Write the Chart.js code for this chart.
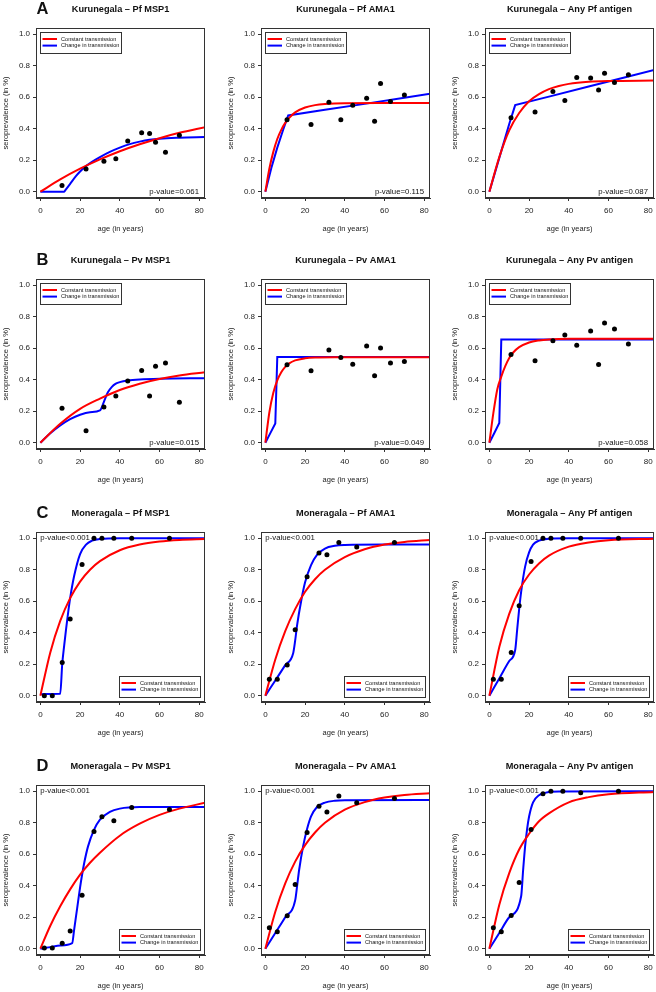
<!DOCTYPE html>
<html>
<head>
<meta charset="utf-8">
<script src="https://cdn.jsdelivr.net/npm/chart.js@4/dist/chart.umd.min.js"></script>
<style>
  body { margin:0; width:656px; height:992px; overflow:hidden; background:#fff; position:relative; }
  canvas { position:absolute; }
</style>
</head>
<body>
<script>
const FONT = '"Liberation Sans", Arial, sans-serif';

// ages of the observed groups
const agesK = [10.9, 23, 32, 38, 44, 51, 55, 58, 63, 70];
const agesM = [2, 6, 11, 15, 21, 27, 31, 37, 46, 65];

const xTicks = [0, 20, 40, 60, 80];
const yTicks = [0, 0.2, 0.4, 0.6, 0.8, 1.0];

// observed seroprevalence
const obsKPfMsp1 = [0.04, 0.145, 0.194, 0.21, 0.322, 0.375, 0.37, 0.314, 0.25, 0.358];
const obsKPfAma1 = [0.457, 0.427, 0.568, 0.457, 0.55, 0.594, 0.448, 0.688, 0.573, 0.615];
const obsKPfAny  = [0.47, 0.507, 0.636, 0.579, 0.726, 0.722, 0.646, 0.752, 0.693, 0.743];
const obsKPvMsp1 = [0.219, 0.076, 0.227, 0.297, 0.392, 0.459, 0.297, 0.486, 0.507, 0.257];
const obsKPvAma1 = [0.495, 0.457, 0.589, 0.541, 0.499, 0.615, 0.425, 0.602, 0.507, 0.516];
const obsKPvAny  = [0.56, 0.52, 0.648, 0.684, 0.619, 0.71, 0.497, 0.76, 0.722, 0.627];
const obsMPfMsp1 = [0, 0, 0.211, 0.488, 0.833, 1, 1, 1, 1, 1];
const obsMPfAma1 = [0.104, 0.104, 0.195, 0.419, 0.755, 0.907, 0.896, 0.973, 0.945, 0.973];
const obsMPfAny  = [0.104, 0.104, 0.275, 0.571, 0.852, 1, 1, 1, 1, 1];
const obsMPvMsp1 = [0.004, 0.004, 0.034, 0.112, 0.339, 0.745, 0.838, 0.813, 0.897, 0.884];
const obsMPvAma1 = [0.133, 0.107, 0.21, 0.408, 0.739, 0.905, 0.869, 0.97, 0.928, 0.954];
const obsMPvAny  = [0.133, 0.107, 0.211, 0.421, 0.758, 0.985, 1, 1, 0.99, 1];

// fitted curves [age, seroprevalence], red = constant, blue = change in transmission
const redKPfMsp1 = [[0,0],[10,0.078],[20,0.146],[30,0.205],[40,0.257],[50,0.301],[60,0.34],[70,0.374],[83,0.41]];
const blueKPfMsp1 = [[0,0],[6,0],[12,0],[12.6,0.01],[15,0.05],[18,0.1],[20,0.128],[23,0.163],[26,0.19],[30,0.22],[35,0.253],[40,0.28],[45,0.302],[50,0.318],[55,0.33],[60,0.337],[70,0.343],[83,0.347]];
const redKPfAma1 = [[0,0],[2,0.146],[4,0.253],[6,0.335],[8,0.393],[10,0.437],[12,0.469],[15,0.504],[20,0.535],[25,0.55],[30,0.557],[40,0.562],[60,0.563],[83,0.563]];
const blueKPfAma1 = [[0,0],[3,0.15],[6,0.28],[9,0.395],[11.5,0.484],[30,0.52],[50,0.558],[70,0.597],[83,0.622]];
const redKPfAny = [[0,0],[5,0.22],[10,0.39],[15,0.5],[20,0.575],[25,0.62],[30,0.652],[35,0.672],[40,0.685],[50,0.698],[60,0.703],[83,0.706]];
const blueKPfAny = [[0,0],[5,0.215],[10,0.43],[13,0.55],[30,0.604],[50,0.668],[70,0.732],[83,0.774]];
const redKPvMsp1 = [[0,0],[10,0.12],[20,0.215],[30,0.28],[40,0.335],[50,0.375],[60,0.405],[70,0.427],[83,0.447]];
const blueKPvMsp1 = [[0,0],[5,0.06],[10,0.11],[15,0.15],[20,0.178],[25,0.194],[30,0.205],[32,0.26],[34,0.32],[36,0.355],[38,0.375],[40,0.385],[44,0.395],[50,0.402],[60,0.407],[83,0.41]];
const redKPvAma1 = [[0,0],[2,0.192],[4,0.317],[6,0.396],[8,0.448],[10,0.482],[12,0.504],[15,0.523],[20,0.536],[25,0.541],[35,0.543],[83,0.543]];
const blueKPvAma1 = [[0,0],[2.5,0.061],[5,0.122],[6,0.545],[30,0.545],[83,0.545]];
const redKPvAny = [[0,0],[2,0.188],[4,0.34],[6,0.42],[8,0.486],[10,0.538],[12,0.573],[15,0.607],[20,0.637],[25,0.65],[30,0.656],[40,0.66],[83,0.66]];
const blueKPvAny = [[0,0],[2.5,0.062],[5,0.125],[6,0.655],[30,0.655],[83,0.655]];
const redMPfMsp1 = [[0,0],[5,0.275],[10,0.475],[15,0.62],[20,0.725],[25,0.8],[30,0.855],[40,0.924],[50,0.96],[60,0.979],[70,0.989],[83,0.995]];
const blueMPfMsp1 = [[0,0.01],[5,0.011],[10,0.012],[11,0.2],[12,0.32],[13,0.43],[14,0.53],[15,0.62],[17,0.76],[20,0.9],[23,0.96],[26,0.985],[30,0.996],[40,1],[83,1]];
const redMPfAma1 = [[0,0],[5,0.23],[10,0.41],[15,0.55],[20,0.66],[25,0.74],[30,0.8],[40,0.88],[50,0.93],[60,0.96],[70,0.977],[83,0.99]];
const blueMPfAma1 = [[0,0],[5,0.097],[10,0.194],[14,0.27],[15,0.35],[16,0.45],[18,0.6],[20,0.72],[23,0.83],[26,0.895],[30,0.935],[35,0.952],[40,0.957],[60,0.96],[83,0.96]];
const redMPfAny = [[0,0],[5,0.31],[10,0.52],[15,0.67],[20,0.77],[25,0.84],[30,0.89],[40,0.947],[50,0.974],[60,0.988],[83,0.997]];
const blueMPfAny = [[0,0],[5,0.11],[10,0.22],[13,0.29],[14,0.42],[15,0.55],[16,0.66],[18,0.82],[20,0.91],[22,0.96],[25,0.985],[30,0.997],[40,1],[83,1]];
const redMPvMsp1 = [[0,0],[5,0.146],[10,0.27],[15,0.377],[20,0.47],[25,0.546],[30,0.61],[40,0.718],[50,0.794],[60,0.85],[70,0.89],[83,0.927]];
const blueMPvMsp1 = [[0,0],[5,0.01],[10,0.02],[16,0.035],[17,0.12],[18,0.21],[19,0.3],[20,0.39],[21,0.47],[22,0.54],[24,0.65],[27,0.755],[30,0.82],[35,0.87],[40,0.89],[50,0.9],[83,0.9]];
const redMPvAma1 = [[0,0],[5,0.235],[10,0.415],[15,0.553],[20,0.658],[25,0.738],[30,0.8],[40,0.883],[50,0.931],[60,0.96],[70,0.977],[83,0.988]];
const blueMPvAma1 = [[0,0],[5,0.1],[10,0.2],[15,0.307],[16,0.4],[17,0.5],[19,0.65],[21,0.76],[23,0.84],[26,0.9],[30,0.928],[35,0.94],[40,0.943],[83,0.944]];
const redMPvAny = [[0,0],[5,0.28],[10,0.48],[15,0.63],[20,0.73],[25,0.81],[30,0.86],[40,0.93],[50,0.963],[60,0.981],[83,0.996]];
const blueMPvAny = [[0,0],[5,0.1],[10,0.2],[16,0.333],[17,0.5],[18,0.65],[19,0.76],[20,0.84],[22,0.93],[25,0.975],[28,0.99],[35,0.998],[83,1]];

const titles = [
  "Kurunegala – Pf MSP1", "Kurunegala – Pf AMA1", "Kurunegala – Any Pf antigen",
  "Kurunegala – Pv MSP1", "Kurunegala – Pv AMA1", "Kurunegala – Any Pv antigen",
  "Moneragala – Pf MSP1", "Moneragala – Pf AMA1", "Moneragala – Any Pf antigen",
  "Moneragala – Pv MSP1", "Moneragala – Pv AMA1", "Moneragala – Any Pv antigen"
];
const pValues = ["p-value=0.061", "p-value=0.115", "p-value=0.087",
                 "p-value=0.015", "p-value=0.049", "p-value=0.058",
                 "p-value<0.001", "p-value<0.001", "p-value<0.001",
                 "p-value<0.001", "p-value<0.001", "p-value<0.001"];
const rowLetters = ["A", "B", "C", "D"];

const panels = [
  [agesK, obsKPfMsp1, redKPfMsp1, blueKPfMsp1],
  [agesK, obsKPfAma1, redKPfAma1, blueKPfAma1],
  [agesK, obsKPfAny, redKPfAny, blueKPfAny],
  [agesK, obsKPvMsp1, redKPvMsp1, blueKPvMsp1],
  [agesK, obsKPvAma1, redKPvAma1, blueKPvAma1],
  [agesK, obsKPvAny, redKPvAny, blueKPvAny],
  [agesM, obsMPfMsp1, redMPfMsp1, blueMPfMsp1],
  [agesM, obsMPfAma1, redMPfAma1, blueMPfAma1],
  [agesM, obsMPfAny, redMPfAny, blueMPfAny],
  [agesM, obsMPvMsp1, redMPvMsp1, blueMPvMsp1],
  [agesM, obsMPvAma1, redMPvAma1, blueMPvAma1],
  [agesM, obsMPvAny, redMPvAny, blueMPvAny]
];
// blue curves that are piecewise straight get no smoothing
const blueStraight = [false, true, true, false, true, true, false, false, false, false, false, false];

// layout of the plot boxes on the page
const boxLeft = [36, 261, 485];
const boxTop = [27.5, 279.3, 532.3, 785];
const CW = 210, CH = 240;

const deco = {
  id: 'deco',
  afterDraw(chart, args, o) {
    const {ctx, chartArea: a} = chart;
    ctx.save();
    ctx.strokeStyle = '#333';
    ctx.lineWidth = 1;
    ctx.strokeRect(a.left + 0.5, a.top + 0.5, a.width - 1, a.height - 1);

    ctx.fillStyle = '#111';
    ctx.textBaseline = 'middle';
    ctx.textAlign = 'center';
    ctx.font = 'bold 9.2px ' + FONT;
    ctx.fillText(o.title, (a.left + a.right) / 2, a.top - 19);
    if (o.letter) {
      ctx.textAlign = 'left';
      ctx.font = 'bold 16.5px ' + FONT;
      ctx.fillText(o.letter, a.left + 0.5, a.top - 19);
    }

    // legend box
    const lw = 81, lh = 21;
    let lx, ly;
    if (o.legendTop) { lx = a.left + 4; ly = a.top + 4; }
    else { lx = a.right - 5 - lw; ly = a.bottom - 5 - lh; }
    ctx.fillStyle = '#fff';
    ctx.fillRect(lx, ly, lw, lh);
    ctx.strokeStyle = '#333';
    ctx.strokeRect(lx + 0.5, ly + 0.5, lw, lh);
    const rows = [['#ff0000', 'Constant transmission', 7], ['#0000ff', 'Change in transmission', 13.6]];
    ctx.font = '5.6px ' + FONT;
    ctx.textAlign = 'left';
    rows.forEach(([c, t, dy]) => {
      ctx.strokeStyle = c;
      ctx.lineWidth = 2;
      ctx.beginPath();
      ctx.moveTo(lx + 2.5, ly + dy);
      ctx.lineTo(lx + 17, ly + dy);
      ctx.stroke();
      ctx.fillStyle = '#111';
      ctx.fillText(t, lx + 21, ly + dy);
    });

    // p-value
    ctx.font = '7.8px ' + FONT;
    ctx.fillStyle = '#111';
    if (o.legendTop) {
      ctx.textAlign = 'right';
      ctx.fillText(o.pValue, a.right - 6, a.bottom - 6.5);
    } else {
      ctx.textAlign = 'left';
      ctx.fillText(o.pValue, a.left + 4.3, a.top + 5.7);
    }
    ctx.restore();
  }
};

panels.forEach((p, i) => {
  const row = Math.floor(i / 3), col = i % 3;
  const [ages, obs, red, blue] = p;

  const cv = document.createElement('canvas');
  cv.width = CW; cv.height = CH;
  cv.style.left = (boxLeft[col] - 36) + 'px';
  cv.style.top = (boxTop[row] - 28) + 'px';
  cv.style.width = CW + 'px';
  cv.style.height = CH + 'px';
  document.body.appendChild(cv);

  new Chart(cv, {
    type: 'scatter',
    data: {
      datasets: [
        { data: ages.map((x, k) => ({x: x, y: obs[k]})), pointRadius: 2.5, pointBackgroundColor: '#000', pointBorderWidth: 0 },
        { data: red.map(d => ({x: d[0], y: d[1]})), showLine: true, borderColor: '#ff0000', borderWidth: 2, pointRadius: 0, cubicInterpolationMode: 'monotone' },
        { data: blue.map(d => ({x: d[0], y: d[1]})), showLine: true, borderColor: '#0000ff', borderWidth: 2, pointRadius: 0,
          cubicInterpolationMode: blueStraight[i] ? 'default' : 'monotone', tension: 0 }
      ]
    },
    options: {
      responsive: false,
      animation: false,
      events: [],
      layout: { padding: { top: 28, right: 5, left: 0, bottom: 0 } },
      plugins: {
        legend: { display: false },
        tooltip: { enabled: false },
        deco: { title: titles[i], letter: col === 0 ? rowLetters[row] : null, pValue: pValues[i], legendTop: row < 2 }
      },
      scales: {
        x: {
          type: 'linear', min: -2.2, max: 82.9,
          afterBuildTicks: s => { s.ticks = xTicks.map(v => ({value: v})); },
          afterFit: s => { s.height = 42; },
          grid: { drawOnChartArea: false, drawTicks: true, tickLength: 3, color: '#333' },
          border: { display: true, color: '#333' },
          ticks: { font: { size: 8, family: FONT }, color: '#222', padding: 5, maxRotation: 0, autoSkip: false },
          title: { display: true, text: 'age (in years)', font: { size: 7.5, family: FONT }, color: '#222', padding: { top: 0, bottom: 6.5 } }
        },
        y: {
          min: -0.04, max: 1.04,
          afterBuildTicks: s => { s.ticks = yTicks.map(v => ({value: v})); },
          afterFit: s => { s.width = 36; },
          grid: { drawOnChartArea: false, drawTicks: true, tickLength: 3, color: '#333' },
          border: { display: true, color: '#333' },
          ticks: { font: { size: 8, family: FONT }, color: '#222', padding: 3, callback: v => v.toFixed(1) },
          title: { display: true, text: 'seroprevalence (in %)', font: { size: 7.5, family: FONT }, color: '#222', padding: { top: 1.5, bottom: 0 } }
        }
      }
    },
    plugins: [deco]
  });
});
</script>
</body>
</html>
